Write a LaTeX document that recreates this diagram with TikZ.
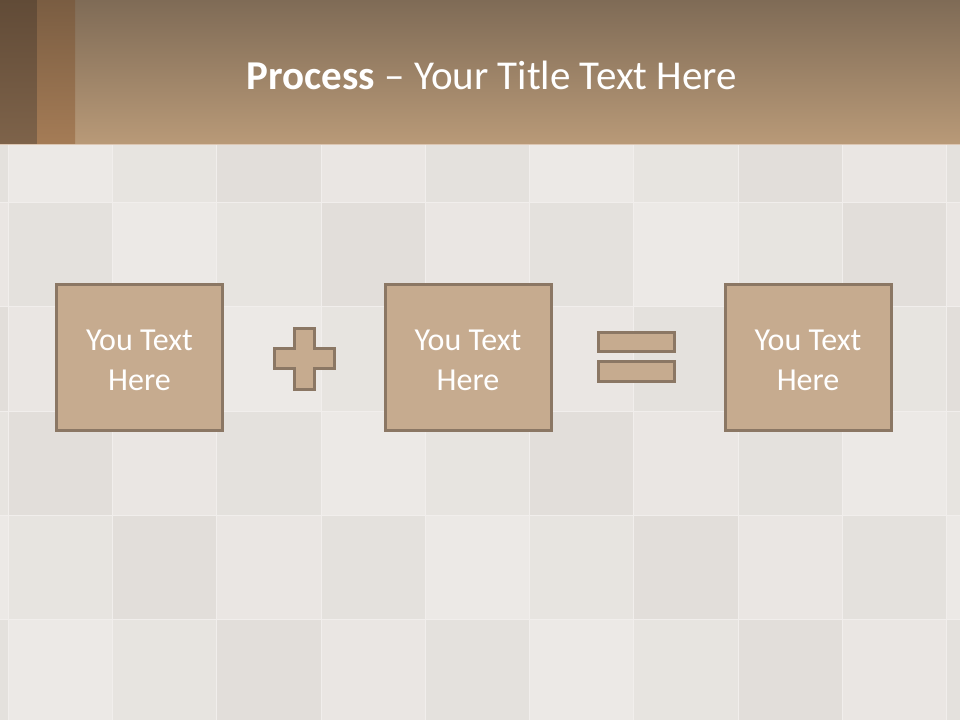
\documentclass[tikz,border=0pt]{standalone}
\usepackage{fontspec}
\setmainfont{Carlito}
\usepackage{xcolor}
\definecolor{hdtop}{HTML}{7F6B56}
\definecolor{hdbot}{HTML}{B99A78}
\definecolor{stripAtop}{HTML}{614B37}
\definecolor{stripAbot}{HTML}{7E634A}
\definecolor{stripBtop}{HTML}{7A5D42}
\definecolor{stripBbot}{HTML}{A57C56}
\definecolor{hdline}{HTML}{DCC6B2}
\definecolor{bgbase}{HTML}{E7E3DF}
\definecolor{tilelight}{HTML}{ECE9E6}
\definecolor{tiledark}{HTML}{E2DEDA}
\definecolor{tileedge}{HTML}{F1EEEC}
\definecolor{boxfill}{HTML}{C6AB8F}
\definecolor{boxedge}{HTML}{8B7764}
\newcommand{\topstrut}{\rule{0pt}{19pt}}
\begin{document}
\begin{tikzpicture}[x=0.75pt,y=-0.75pt,
  tile/.style={draw=tileedge,line width=0.6pt},
  txtbox/.style={rectangle,draw=boxedge,fill=boxfill,line width=2.25pt,minimum width=124.5pt,minimum height=109.5pt,inner sep=0pt,text=white,align=center,font=\fontsize{24}{30}\selectfont},
  sign/.style={draw=boxedge,fill=boxfill,line width=2.25pt}]
\clip (0,0) rectangle (960,720);
\fill[bgbase] (0,0) rectangle (960,720);
\foreach \i in {-1,...,9} {\foreach \j in {0,...,6} {\pgfmathtruncatemacro{\t}{mod(\i*37+\j*23+50,5)*25}\filldraw[tile,fill=tiledark!\t!tilelight] ({8+104.3*\i},{98+104.3*\j}) rectangle +(104.3,104.3);}}
\shade[top color=hdtop,bottom color=hdbot] (0,0) rectangle (960,145);
\shade[top color=stripAtop,bottom color=stripAbot] (0,0) rectangle (37,145);
\shade[top color=stripBtop,bottom color=stripBbot] (37,0) rectangle (75,145);
\draw[hdline,line width=0.75pt] (0,145)--(960,145);
\node[font=\fontsize{30.75}{37}\selectfont,text=white] (title) at (492,75) {\textbf{Process} – Your Title Text Here};
\node[txtbox] (first) at (139.5,357.5) {\topstrut You Text\\Here};
\node[txtbox] (second) at (468,357.5) {\topstrut You Text\\Here};
\node[txtbox] (result) at (808,357.5) {\topstrut You Text\\Here};
\filldraw[sign] (294.5,328)--(314,328)--(314,348)--(334,348)--(334,368)--(314,368)--(314,389)--(294.5,389)--(294.5,368)--(274,368)--(274,348)--(294.5,348)--cycle;
\filldraw[sign] (598.5,332.5) rectangle (674.5,351.5);
\filldraw[sign] (598.5,361.5) rectangle (674.5,381.5);
\end{tikzpicture}
\end{document}
